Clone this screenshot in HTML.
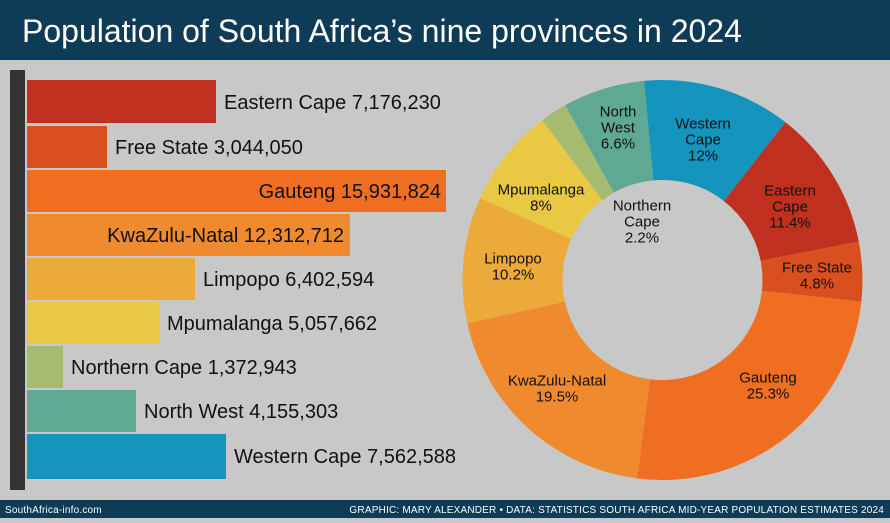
<!DOCTYPE html>
<html><head><meta charset="utf-8"><style>
body{margin:0;width:890px;height:518px;overflow:hidden;background:#c8c8c8;font-family:"Liberation Sans",sans-serif}
</style></head><body>
<svg width="890" height="518" xmlns="http://www.w3.org/2000/svg" font-family="Liberation Sans, sans-serif">
<rect width="890" height="518" fill="#c8c8c8"/>
<rect width="890" height="60" fill="#0e3b55"/>
<text x="22" y="42" font-size="32" fill="#fff">Population of South Africa’s nine provinces in 2024</text>
<rect y="500" width="890" height="18" fill="#0e3b55"/>
<text x="5" y="513" font-size="10" fill="#fff" letter-spacing="0.2">SouthAfrica-info.com</text>
<text x="884" y="513" font-size="10" fill="#fff" text-anchor="end" letter-spacing="0.2">GRAPHIC: MARY ALEXANDER • DATA: STATISTICS SOUTH AFRICA MID-YEAR POPULATION ESTIMATES 2024</text>
<rect x="10" y="70" width="15" height="420" fill="#333"/>
<g font-size="20" fill="#111">
<rect x="27" y="80" width="189" height="43" fill="#c0301f"/><text x="224" y="109">Eastern Cape 7,176,230</text>
<rect x="27" y="126" width="80" height="42" fill="#d94f20"/><text x="115" y="154">Free State 3,044,050</text>
<rect x="27" y="170" width="419" height="42" fill="#f06e22"/><text x="441" y="198" text-anchor="end">Gauteng 15,931,824</text>
<rect x="27" y="214" width="323" height="42" fill="#ef8a2e"/><text x="344" y="242" text-anchor="end">KwaZulu-Natal 12,312,712</text>
<rect x="27" y="258" width="168" height="42" fill="#ecaa3a"/><text x="203" y="286">Limpopo 6,402,594</text>
<rect x="27" y="302" width="132" height="42" fill="#e9c843"/><text x="167" y="330">Mpumalanga 5,057,662</text>
<rect x="27" y="346" width="36" height="42" fill="#a5bb6f"/><text x="71" y="374">Northern Cape 1,372,943</text>
<rect x="27" y="390" width="109" height="42" fill="#5fa994"/><text x="144" y="418">North West 4,155,303</text>
<rect x="27" y="434" width="199" height="45" fill="#1595bd"/><text x="234" y="463">Western Cape 7,562,588</text>
</g>
<g id="donut"></g>
<g font-size="15" fill="#111" text-anchor="middle" dominant-baseline="central">
<text x="618" y="112">North</text><text x="618" y="128">West</text><text x="618" y="144">6.6%</text>
<text x="703" y="124">Western</text><text x="703" y="140">Cape</text><text x="703" y="156">12%</text>
<text x="790" y="191">Eastern</text><text x="790" y="207">Cape</text><text x="790" y="223">11.4%</text>
<text x="817" y="268">Free State</text><text x="817" y="284">4.8%</text>
<text x="768" y="378">Gauteng</text><text x="768" y="394">25.3%</text>
<text x="557" y="381">KwaZulu-Natal</text><text x="557" y="397">19.5%</text>
<text x="513" y="259">Limpopo</text><text x="513" y="275">10.2%</text>
<text x="541" y="190">Mpumalanga</text><text x="541" y="206">8%</text>
<text x="642" y="206">Northern</text><text x="642" y="222">Cape</text><text x="642" y="238">2.2%</text>
</g>
</svg>
<script>
var cx=662.5,cy=280,R=200,r=100;
var d=[[12,"#1595bd"],[11.4,"#c0301f"],[4.8,"#d94f20"],[25.3,"#f06e22"],[19.5,"#ef8a2e"],[10.2,"#ecaa3a"],[8,"#e9c843"],[2.2,"#a5bb6f"],[6.6,"#5fa994"]];
var a=-5.3,g=document.getElementById("donut"),s="";
function p(rad,deg){var t=deg*Math.PI/180;return (cx+rad*Math.sin(t)).toFixed(2)+" "+(cy-rad*Math.cos(t)).toFixed(2);}
d.forEach(function(x){var b=a+x[0]*3.6,l=(b-a)>180?1:0;
s+='<path fill="'+x[1]+'" d="M'+p(R,a)+' A'+R+' '+R+' 0 '+l+' 1 '+p(R,b)+' L'+p(r,b)+' A'+r+' '+r+' 0 '+l+' 0 '+p(r,a)+' Z"/>';a=b;});
g.innerHTML=s;
</script>
</body></html>
